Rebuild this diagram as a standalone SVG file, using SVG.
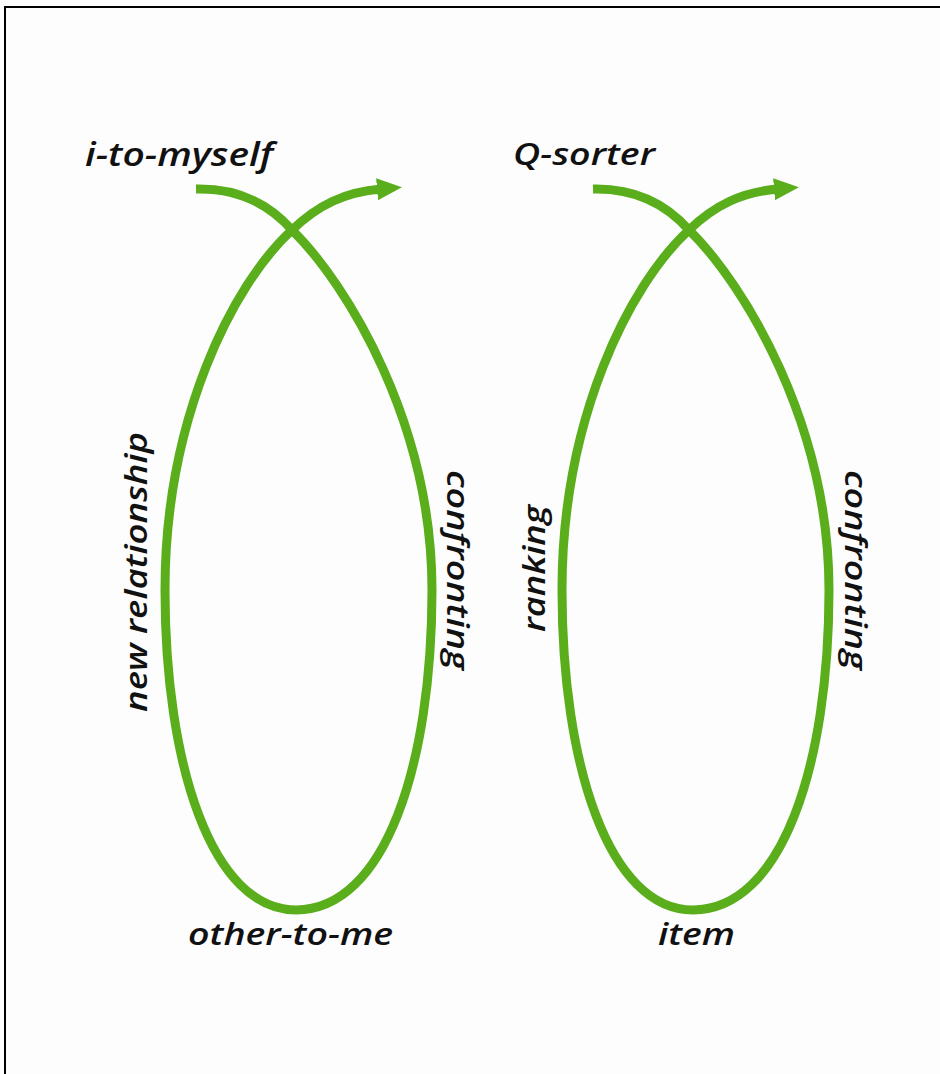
<svg xmlns="http://www.w3.org/2000/svg" width="940" height="1074" viewBox="0 0 940 1074">
<style>
.loop{fill:none;stroke:#5aae1c;stroke-width:9;stroke-linecap:butt}
.lbl{font-family:"Open Sans","Noto Sans",sans-serif;font-style:italic;font-weight:600;fill:#111}
</style>
<defs>
<marker id="ah" markerUnits="userSpaceOnUse" markerWidth="30" markerHeight="30" refX="4" refY="11" orient="auto">
<path d="M0,0 L25,11 L0,22 Z" fill="#5aae1c"/>
</marker>
<path id="loopPath" d="M196,189 C240,188 270,205 292,230 C348,285 432,425 432,590 C432,765 385,910 296,910 C212,910 165,765 165,590 C165,420 232,285 292,230 C318,205 345,192 381,189"/>
</defs>
<rect x="0" y="0" width="940" height="1074" fill="#fdfdfd"/>
<rect x="5" y="7" width="960" height="1090" fill="none" stroke="#000" stroke-width="2"/>
<g id="connectors">
<use href="#loopPath" class="loop" marker-end="url(#ah)"/>
<use href="#loopPath" class="loop" marker-end="url(#ah)" transform="translate(397,0)"/>
</g>
<g id="node-i-to-myself"><text class="lbl" x="85" y="166" font-size="32" font-weight="700" textLength="188" lengthAdjust="spacingAndGlyphs">i-to-myself</text></g>
<g id="node-new-relationship"><text class="lbl" transform="translate(147,712) rotate(-90)" font-size="30" textLength="280" lengthAdjust="spacingAndGlyphs">new relationship</text></g>
<g id="node-confronting-1"><text class="lbl" transform="translate(447,470) rotate(90)" font-size="31" textLength="200" lengthAdjust="spacingAndGlyphs">confronting</text></g>
<g id="node-other-to-me"><text class="lbl" x="188" y="945" font-size="31" textLength="205" lengthAdjust="spacingAndGlyphs">other-to-me</text></g>
<g id="node-q-sorter"><text class="lbl" x="513" y="165" font-size="30" textLength="142" lengthAdjust="spacingAndGlyphs">Q-sorter</text></g>
<g id="node-ranking"><text class="lbl" transform="translate(545,632) rotate(-90)" font-size="30" textLength="127" lengthAdjust="spacingAndGlyphs">ranking</text></g>
<g id="node-confronting-2"><text class="lbl" transform="translate(845,470) rotate(90)" font-size="31" textLength="200" lengthAdjust="spacingAndGlyphs">confronting</text></g>
<g id="node-item"><text class="lbl" x="658" y="945" font-size="31" textLength="77" lengthAdjust="spacingAndGlyphs">item</text></g>
</svg>
